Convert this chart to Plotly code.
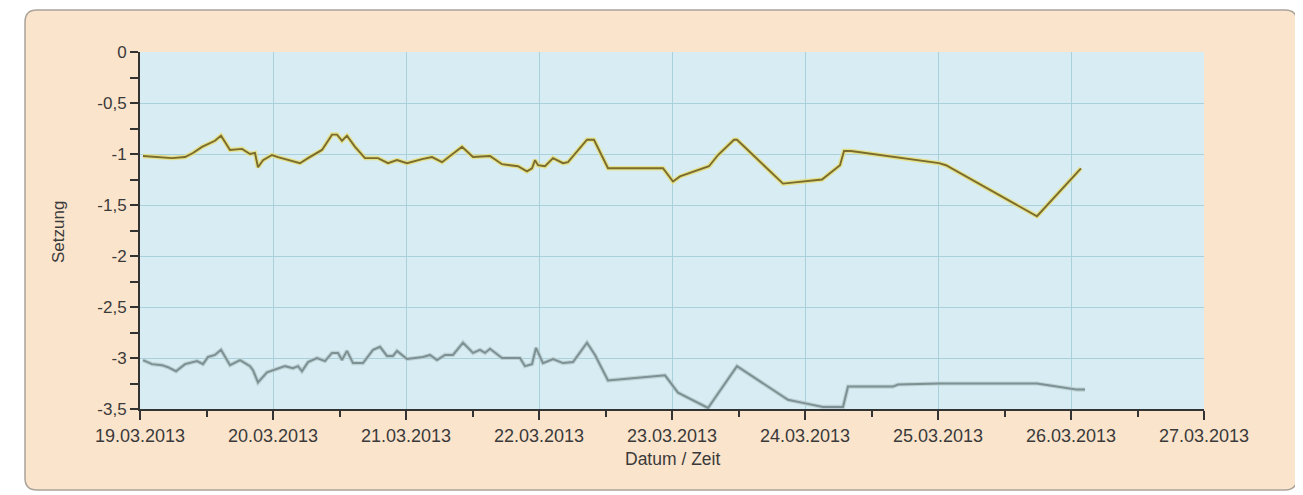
import pandas as pd
import plotly.graph_objects as go

# ---- data (hours after 19.03.2013 00:00, settlement values) ----
upper_hours = [0.54, 2.71, 5.77, 8.12, 9.56, 11.19, 13.53, 14.62, 16.24, 18.41,
               19.85, 20.75, 21.29, 22.20, 23.82, 24.90, 26.71, 28.87, 30.32, 32.84,
               34.65, 35.55, 36.45, 37.35, 38.80, 40.60, 42.95, 44.75, 46.38, 48.18,
               50.89, 52.69, 54.50, 56.48, 58.11, 60.09, 63.16, 65.32, 66.77, 68.21,
               69.83, 70.74, 71.28, 71.82, 73.08, 74.53, 76.33, 77.23, 80.66, 81.92,
               84.45, 94.38, 96.18, 97.44, 102.68, 104.30, 107.19, 107.73, 110.62, 116.03,
               123.07, 126.32, 127.04, 128.30, 144.18, 145.44, 161.86, 169.80]
upper_values = [-1.02, -1.03, -1.04, -1.03, -0.99, -0.93, -0.87, -0.82, -0.96, -0.95,
                -1.00, -0.99, -1.13, -1.06, -1.01, -1.03, -1.06, -1.09, -1.04, -0.96,
                -0.81, -0.81, -0.87, -0.82, -0.93, -1.04, -1.04, -1.09, -1.06, -1.09,
                -1.05, -1.03, -1.08, -1.00, -0.93, -1.03, -1.02, -1.10, -1.11, -1.12,
                -1.17, -1.14, -1.06, -1.11, -1.12, -1.04, -1.09, -1.08, -0.86, -0.86,
                -1.14, -1.14, -1.27, -1.22, -1.12, -1.01, -0.86, -0.86, -1.01, -1.29,
                -1.25, -1.11, -0.97, -0.97, -1.09, -1.11, -1.61, -1.14]

lower_hours = [0.54, 2.17, 3.97, 5.05, 6.50, 8.12, 10.29, 11.37, 12.27, 13.53,
               14.62, 16.24, 18.05, 19.85, 20.39, 21.29, 22.92, 24.36, 26.17, 27.61,
               28.51, 29.23, 30.32, 31.94, 33.38, 34.65, 35.73, 36.45, 37.35, 38.44,
               40.24, 42.05, 43.31, 44.57, 45.65, 46.38, 48.18, 49.62, 51.07, 52.33,
               53.59, 55.04, 56.48, 58.29, 60.09, 61.35, 62.26, 63.16, 65.32, 68.57,
               69.47, 70.74, 71.46, 72.72, 74.53, 76.33, 78.14, 80.66, 82.11, 84.45,
               94.74, 97.08, 102.50, 107.73, 116.93, 119.64, 123.25, 126.86, 127.76, 135.88,
               136.78, 144.36, 161.86, 164.21, 169.08, 170.53]
lower_values = [-3.02, -3.06, -3.07, -3.09, -3.13, -3.06, -3.03, -3.06, -2.99, -2.97,
                -2.92, -3.07, -3.02, -3.08, -3.12, -3.24, -3.14, -3.11, -3.08, -3.10,
                -3.08, -3.13, -3.04, -3.00, -3.03, -2.95, -2.95, -3.02, -2.93, -3.05,
                -3.05, -2.92, -2.89, -2.98, -2.98, -2.93, -3.01, -3.00, -2.99, -2.97,
                -3.02, -2.97, -2.97, -2.85, -2.95, -2.92, -2.95, -2.91, -3.00, -3.00,
                -3.08, -3.06, -2.90, -3.05, -3.01, -3.05, -3.04, -2.85, -2.97, -3.22,
                -3.17, -3.34, -3.49, -3.08, -3.41, -3.44, -3.48, -3.48, -3.28, -3.28,
                -3.26, -3.25, -3.25, -3.27, -3.31, -3.31]

x_tick_dates = ["2013-03-19", "2013-03-20", "2013-03-21", "2013-03-22", "2013-03-23",
                "2013-03-24", "2013-03-25", "2013-03-26", "2013-03-27"]
x_tick_labels = ["19.03.2013", "20.03.2013", "21.03.2013", "22.03.2013", "23.03.2013",
                 "24.03.2013", "25.03.2013", "26.03.2013", "27.03.2013"]
y_tick_vals = [0, -0.5, -1, -1.5, -2, -2.5, -3, -3.5]
y_tick_labels = ["0", "-0,5", "-1", "-1,5", "-2", "-2,5", "-3", "-3,5"]

base = pd.Timestamp("2013-03-19 00:00")
upper_x = base + pd.to_timedelta(upper_hours, unit="h")
lower_x = base + pd.to_timedelta(lower_hours, unit="h")

FONT = "Liberation Sans, Arial, sans-serif"
TXT = "#3a3a3a"

fig = go.Figure()
# halos
fig.add_trace(go.Scatter(x=upper_x, y=upper_values, mode="lines",
                         line=dict(color="rgba(232,222,120,0.85)", width=4.5),
                         hoverinfo="skip", showlegend=False))
fig.add_trace(go.Scatter(x=lower_x, y=lower_values, mode="lines",
                         line=dict(color="rgba(185,203,206,0.85)", width=4.2),
                         hoverinfo="skip", showlegend=False))
# core lines
fig.add_trace(go.Scatter(x=upper_x, y=upper_values, mode="lines",
                         line=dict(color="#7a6c2e", width=1.9), showlegend=False))
fig.add_trace(go.Scatter(x=lower_x, y=lower_values, mode="lines",
                         line=dict(color="#7d9194", width=2), showlegend=False))

# geometry (pixels in the page; the page body has an 8px margin)
OFF = 8
L, R, T, B = 140 - OFF, 1204 - OFF, 52 - OFF, 409 - OFF
W, H = 1303 - OFF, 495 - OFF
pw, ph = R - L, B - T

def px(x):
    return (x - OFF - L) / pw

def py(y):
    return (B - (y - OFF)) / ph

bx0, bx1, by0, by1 = px(25), px(1297), py(490), py(10)
rx, ry = 12 / pw, 12 / ph
box_path = (f"M {bx0+rx},{by1} L {bx1-rx},{by1} Q {bx1},{by1} {bx1},{by1-ry} "
            f"L {bx1},{by0+ry} Q {bx1},{by0} {bx1-rx},{by0} "
            f"L {bx0+rx},{by0} Q {bx0},{by0} {bx0},{by0+ry} "
            f"L {bx0},{by1-ry} Q {bx0},{by1} {bx0+rx},{by1} Z")

shapes = [
    dict(type="path", xref="paper", yref="paper", path=box_path,
         fillcolor="#fbe4cc", line=dict(color="#aaa39a", width=1.5), layer="below"),
    dict(type="rect", xref="paper", yref="paper", x0=0, x1=1, y0=0, y1=1,
         fillcolor="#d7edf3", line=dict(width=0), layer="below"),
]

fig.update_layout(
    width=W, height=H, autosize=False,
    margin=dict(l=L, r=W - R, t=T, b=H - B),
    paper_bgcolor="white", plot_bgcolor="rgba(0,0,0,0)",
    shapes=shapes,
    font=dict(family=FONT, size=18, color=TXT),
    annotations=[
        dict(text="Setzung", xref="paper", yref="paper", x=px(58), y=py(232),
             textangle=-90, showarrow=False, font=dict(size=17, color=TXT),
             xanchor="center", yanchor="middle"),
        dict(text="Datum / Zeit", xref="paper", yref="paper", x=0.5, y=py(459),
             showarrow=False, font=dict(size=17.5, color=TXT),
             xanchor="center", yanchor="middle"),
    ],
)

fig.update_xaxes(
    type="date", range=[x_tick_dates[0], x_tick_dates[-1]],
    tickmode="array", tickvals=x_tick_dates, ticktext=x_tick_labels,
    showgrid=True, gridcolor="#a9d1db", gridwidth=1,
    showline=True, linecolor="#333333", linewidth=2,
    ticks="outside", ticklen=9, tickwidth=2, tickcolor="#333333",
    minor=dict(dtick=12 * 3600 * 1000, tick0="2013-03-19", ticks="outside",
               ticklen=6, tickwidth=2, tickcolor="#333333", showgrid=False),
    zeroline=False, fixedrange=True,
    tickfont=dict(size=18, color=TXT),
)
fig.update_yaxes(
    range=[-3.5, 0], tickmode="array", tickvals=y_tick_vals, ticktext=y_tick_labels,
    showgrid=True, gridcolor="#a9d1db", gridwidth=1,
    showline=True, linecolor="#333333", linewidth=2,
    ticks="outside", ticklen=8, tickwidth=2, tickcolor="#333333",
    minor=dict(dtick=0.25, tick0=0, ticks="outside", ticklen=8, tickwidth=2,
               tickcolor="#333333", showgrid=False),
    zeroline=False, fixedrange=True,
    tickfont=dict(size=17, color=TXT),
)

fig.write_html("out.html", config=dict(displayModeBar=False))
